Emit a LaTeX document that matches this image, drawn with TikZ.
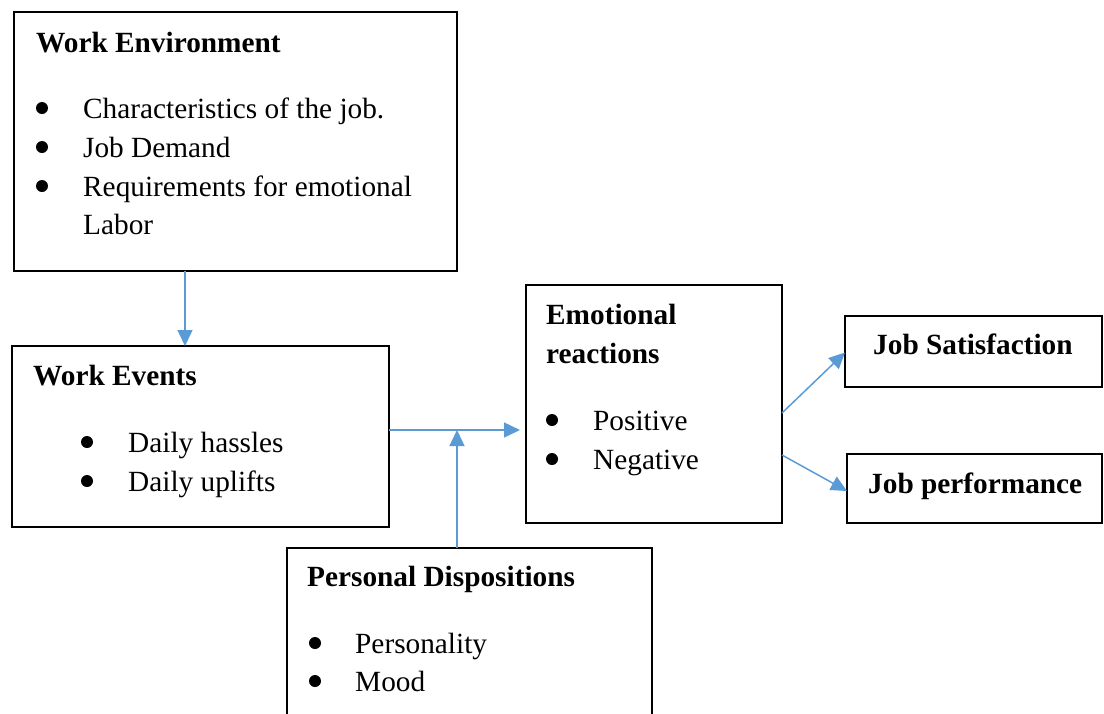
\documentclass[tikz,border=0pt]{standalone}
\usepackage{fontspec}
\setmainfont{Liberation Serif}
\usetikzlibrary{calc, arrows.meta}

\definecolor{arrowblue}{RGB}{91,155,213}

\begin{document}
\begin{tikzpicture}[x=1pt, y=-1pt,
  box/.style={draw=black, line width=1.8pt, rectangle, inner sep=0pt, outer sep=0pt},
  txt/.style={inner sep=0pt, anchor=base west, font=\fontsize{29.3pt}{38.7pt}\selectfont},
  hd/.style={txt, font=\fontsize{29.3pt}{38.7pt}\selectfont\bfseries},
  dot/.style={circle, fill=black, inner sep=0pt, minimum size=12pt},
  arr/.style={draw=arrowblue, line width=1.5pt, -{Triangle[length=16pt, width=15pt]}}]
  \clip (0, 0) rectangle (1104, 713);
  % boxes
  \node[box, minimum width=443pt, minimum height=259pt] (env) at (235.5, 141.5) {};
  \node[box, minimum width=377pt, minimum height=181pt] (events) at (200.5, 436.5) {};
  \node[box, minimum width=256pt, minimum height=238pt] (emo) at (654, 404) {};
  \node[box, minimum width=257pt, minimum height=71pt] (sat) at (973.5, 351.5) {};
  \node[box, minimum width=255pt, minimum height=69pt] (perf) at (974.5, 488.5) {};
  \node[box, minimum width=365pt, minimum height=212pt] (pers) at (469.5, 654) {};
  % texts
  \node[hd] (envHd) at (36, 52) {Work Environment};
  \node[dot] (envB1) at (42, 108) {};
  \node[txt] (envT1) at (83, 118) {Characteristics of the job.};
  \node[dot] (envB2) at (42, 147) {};
  \node[txt] (envT2) at (83, 157) {Job Demand};
  \node[dot] (envB3) at (42, 186) {};
  \node[txt] (envT3) at (83, 196) {Requirements for emotional};
  \node[txt] (envT4) at (83, 234) {Labor};
  \node[hd] (evHd) at (33, 385) {Work Events};
  \node[dot] (evB1) at (87, 442) {};
  \node[txt] (evT1) at (128, 452) {Daily hassles};
  \node[dot] (evB2) at (87, 481) {};
  \node[txt] (evT2) at (128, 491) {Daily uplifts};
  \node[hd] (emoHd1) at (546, 324) {Emotional};
  \node[hd] (emoHd2) at (546, 363) {reactions};
  \node[dot] (emoB1) at (552, 420) {};
  \node[txt] (emoT1) at (593, 430) {Positive};
  \node[dot] (emoB2) at (552, 459) {};
  \node[txt] (emoT2) at (593, 469) {Negative};
  \node[hd] (satHd) at (873, 354) {Job Satisfaction};
  \node[hd] (perfHd) at (868, 493) {Job performance};
  \node[hd] (persHd) at (307, 586) {Personal Dispositions};
  \node[dot] (persB1) at (315, 643) {};
  \node[txt] (persT1) at (355, 653) {Personality};
  \node[dot] (persB2) at (315, 681) {};
  \node[txt] (persT2) at (355, 691) {Mood};
  % arrows
  \coordinate (down) at (185, 0);
  \coordinate (junc) at (457, 430);
  \draw[arr] (env.south -| down) -- (events.north -| down);
  \draw[arr] (events.east |- junc) -- ([xshift=-6pt]emo.west |- junc);
  \draw[arr] (pers.north -| junc) -- (junc);
  \draw[arr] ([yshift=-9pt]emo.east) -- ([yshift=-1pt]sat.west);
  \draw[arr] ([yshift=-51pt]emo.east) -- ([yshift=-2.5pt]perf.west);
\end{tikzpicture}
\end{document}
